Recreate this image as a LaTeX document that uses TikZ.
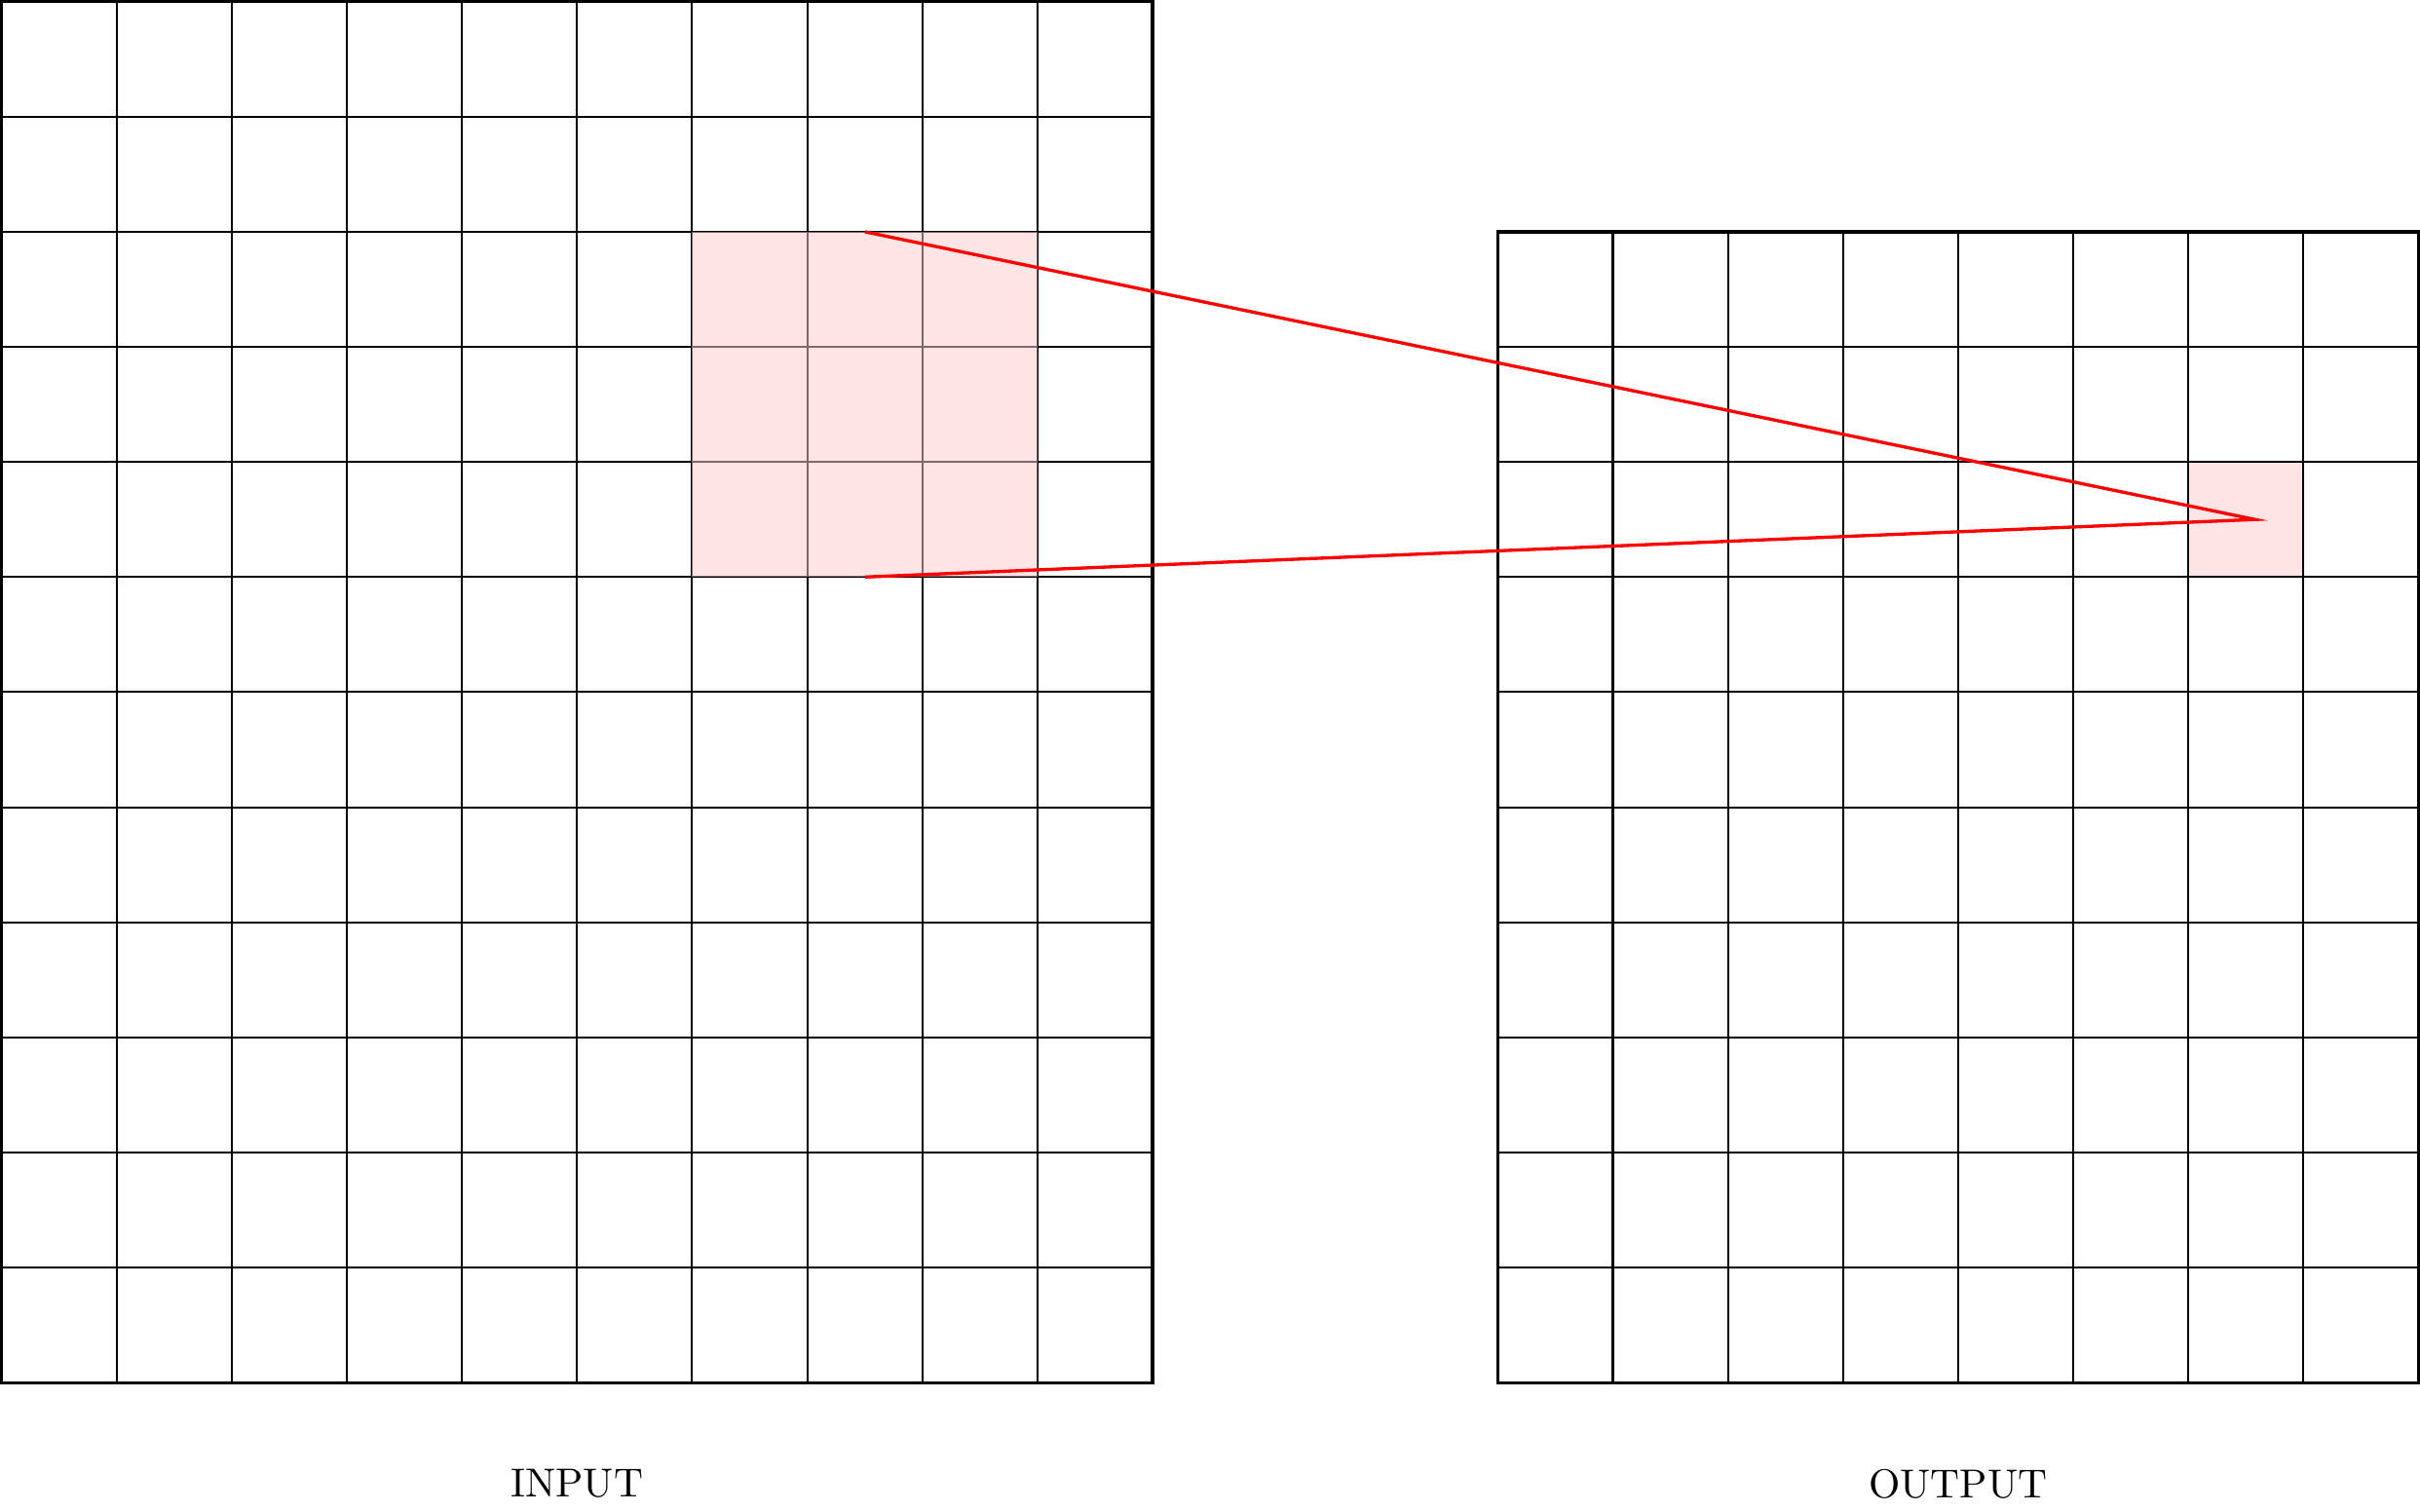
\documentclass[tikz,border=0pt]{standalone}
\usepackage{tikz}

\tikzset{
    gridlines/.style={black, line width=0.5pt},
    frame/.style={black, thick},
    patch/.style={fill=red!20, fill opacity=0.5},
    link/.style={red, thick},
}

\begin{document}
\begin{tikzpicture}
    \useasboundingbox (-0.014,0.014) rectangle (21.014,-13.116);
    % output cell under the grid
    \fill[patch] (19,-4) rectangle (20,-5);
    % input grid 10 x 12
    \draw[gridlines, step=1] (0,-12) grid (10,0);
    \draw[frame] (0,0) rectangle (10,-12);
    % output grid 8 x 10
    \draw[gridlines, step=1] (13,-12) grid (21,-2);
    \draw[frame] (13,-2) rectangle (21,-12);
    % kernel on top of input
    \fill[patch] (6,-2) rectangle (9,-5);
    \coordinate (ktop) at (7.5,-2);
    \coordinate (kbot) at (7.5,-5);
    \coordinate (apex) at (19.58,-4.5);
    \draw[link] (ktop) -- (apex) -- (kbot);
    \node (inlabel) at (5,-12.88) {INPUT};
    \node (outlabel) at (17,-12.88) {OUTPUT};
\end{tikzpicture}
\end{document}
